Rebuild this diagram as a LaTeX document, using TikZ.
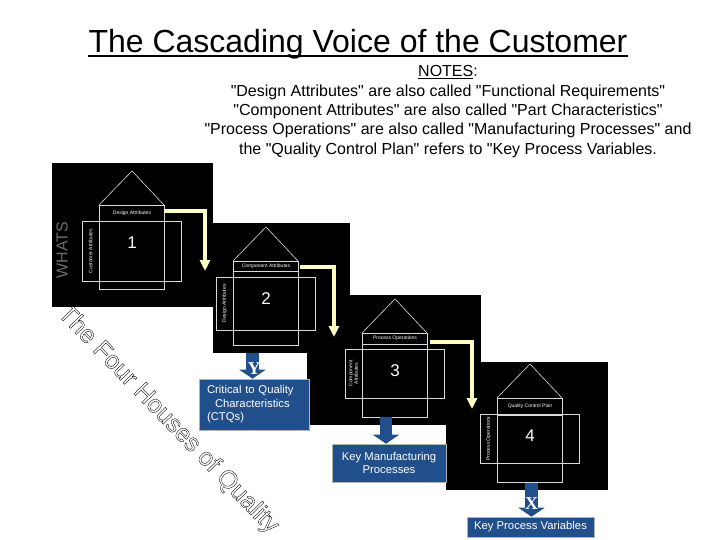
\documentclass[tikz,border=0pt]{standalone}
\usepackage{fontspec}
\setmainfont{Liberation Sans}
\newfontfamily\plainsans{Liberation Sans}
\newfontfamily\timesb{Liberation Serif}
\usetikzlibrary{arrows.meta}
\definecolor{qblue}{RGB}{33,79,140}
\definecolor{qyellow}{RGB}{255,255,196}

\begin{document}
\begin{tikzpicture}[x=1pt, y=-1pt,
    panel/.style={fill=black},
    wline/.style={draw=white!85!black, line width=0.6pt},
    tiny/.style={text=white, font=\fontsize{5}{5.5}\selectfont, inner sep=0pt},
    yarrow/.style={draw=qyellow, line width=3.2pt, -{Triangle[width=10pt,length=11pt]}},
    barrow/.style={draw=qblue, line width=12.5pt, -{Triangle[width=26pt,length=9pt]}},
    qbox/.style={fill=qblue, draw=gray!60, line width=0.6pt, text=white, font=\fontsize{11.3}{13.5}\selectfont, inner sep=0pt}]
    \useasboundingbox (0,0) rectangle (720,540);

    \node[anchor=base, inner sep=0pt] (title) at (358,53) {\fontsize{32}{36}\selectfont The Cascading Voice of the Customer};
    \draw[line width=1.6pt] ([yshift=-3pt]title.base west) -- ([yshift=-3pt]title.base east);

    \node[align=center, font=\plainsans\fontsize{16}{19.3}\selectfont] (notes) at (448,111.5) {\underline{NOTES}:\\
        "Design Attributes" are also called "Functional Requirements"\\
        "Component Attributes" are also called "Part Characteristics"\\
        "Process Operations" are also called "Manufacturing Processes" and\\
        the "Quality Control Plan" refers to "Key Process Variables.};

    \fill[panel] (52,163) rectangle (213,307);
    \fill[panel] (213,223) rectangle (350,353);
    \fill[panel] (307,295) rectangle (481,425);
    \fill[panel] (446,362) rectangle (608,490);

    \node[rotate=90, text=gray!85!black, font=\fontsize{16}{16}\selectfont] (whats) at (62,250) {WHATS};

    \foreach \n/\x/\y/\s/\b/\ttl/\sd in {1/99/205/16/76/{Design Attributes}/{Customer Attributes},
        2/233/261/10/69/{Component Attributes}/{Design Attributes},
        3/362/333/11/65/{Process Operations}/{Component\\Attributes},
        4/497/398/17/65/{Quality Control Plan}/{Process Operations}}
    {
        \draw[wline] (\x,\y) -- (\x+33,\y-34) -- (\x+65,\y);
        \draw[wline] (\x,\y) rectangle (\x+65,\y+84);
        \draw[wline] (\x,\y+\s) -- (\x+65,\y+\s);
        \draw[wline] (\x-17,\y+16) rectangle (\x+82,\y+\b);
        \node[tiny] (ttl\n) at (\x+33,{\y+\s/2}) {\ttl};
        \node[tiny, rotate=90, align=center] (side\n) at (\x-8.5,{\y+16+(\b-16)/2}) {\sd};
        \node[text=white, font=\fontsize{17}{17}\selectfont] (num\n) at (\x+33,\y+38) {\n};
    }

    \coordinate (ya1) at (164,211); \coordinate (yb1) at (205,271);
    \coordinate (ya2) at (300,267); \coordinate (yb2) at (334,337);
    \coordinate (ya3) at (430,342); \coordinate (yb3) at (472,409);
    \draw[yarrow] (ya1) -| (yb1);
    \draw[yarrow] (ya2) -| (yb2);
    \draw[yarrow] (ya3) -| (yb3);

    \node[qbox, minimum width=110pt, minimum height=51pt, text width=94pt, align=left] (ctq) at (254,404.5) {Critical to Quality\\\hspace*{8pt}Characteristics\\(CTQs)};
    \node[qbox, minimum width=114pt, minimum height=38pt, align=center] (kmp) at (389,463) {Key Manufacturing\\Processes};
    \node[qbox, minimum width=127pt, minimum height=20pt] (kpv) at (530.5,527) {Key Process Variables};

    \coordinate (h2) at (252.5,353);
    \coordinate (h3) at (386,417);
    \coordinate (h4) at (531.5,483);
    \draw[barrow] (h2) -- (h2 |- ctq.north);
    \draw[barrow] (h3) -- (h3 |- kmp.north);
    \draw[barrow] (h4) -- (h4 |- kpv.north);
    \node[text=white, font=\timesb\bfseries\fontsize{18}{18}\selectfont] (ylab) at (254,369) {Y};
    \node[text=white, font=\timesb\bfseries\fontsize{18}{18}\selectfont] (xlab) at (531.5,504) {X};

    \node[rotate=-46, font=\fontsize{25}{25}\selectfont] (fourhouses) at (168,420) {\special{pdf:literal direct 1 Tr 0.35 w}The Four Houses of Quality};
\end{tikzpicture}
\end{document}
